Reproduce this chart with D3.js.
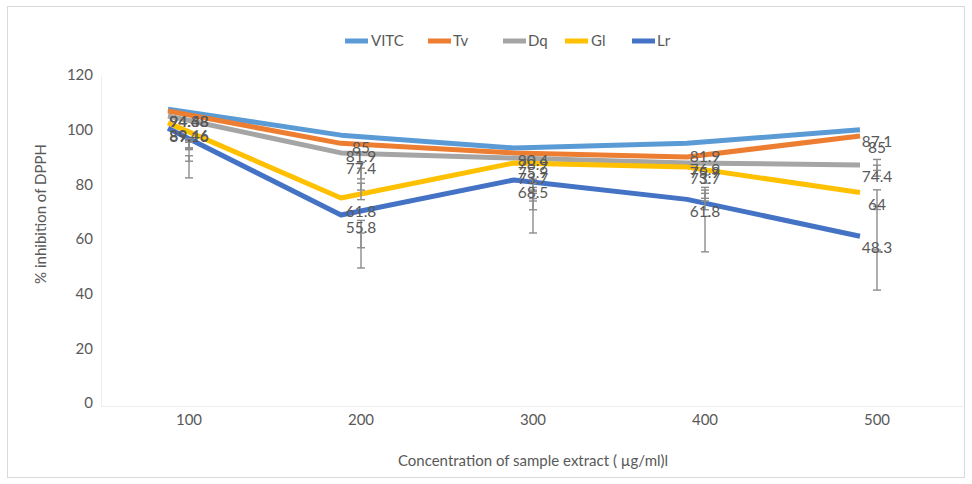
<!DOCTYPE html>
<html>
<head>
<meta charset="utf-8">
<script src="https://cdn.jsdelivr.net/npm/d3@7/dist/d3.min.js"></script>
<style>
  html, body { margin: 0; padding: 0; background: #fff; }
  svg { display: block; font-family: Lato, "Open Sans", sans-serif; }
</style>
</head>
<body>
<svg id="chart" width="972" height="484"></svg>
<script>
// ---- data ----
const categories = [100, 200, 300, 400, 500];
const seriesNames = ["VITC", "Tv", "Dq", "Gl", "Lr"];
const seriesColors = ["#5B9BD5", "#ED7D31", "#A5A5A5", "#FFC000", "#4472C4"];

const vitc = [107.5, 98.0, 93.3, 95.0, 100.0];
const tv   = [106.8, 95.0, 91.5, 90.0, 97.7];
const dq   = [105.0, 91.5, 89.6, 87.8, 87.1];
const gl   = [102.5, 75.0, 87.8, 86.3, 77.0];
const lr   = [100.5, 68.8, 81.6, 74.5, 61.0];

// labelled values (shown as data labels with error bars)
const labelA = [94.68, 85.0, 80.4, 81.9, 87.1];
const labelB = [94.48, 81.9, 78.9, 76.9, 85.0];
const labelC = [94.38, 77.4, 75.9, 75.9, 74.4];
const labelD = [89.46, 61.8, 73.7, 73.7, 64.0];
const labelE = [89.16, 55.8, 68.5, 61.8, 48.3];

const errA = [2.0, 3.0, 1.5, 1.5, 2.0];
const errB = [1.5, 4.0, 1.5, 2.0, 2.0];
const errC = [1.0, 3.0, 2.0, 2.0, 3.6];
const errD = [1.0, 5.0, 3.0, 3.0, 8.0];
const errE = [6.8, 6.4, 6.3, 6.5, 7.0];

const yTicks = [0, 20, 40, 60, 80, 100, 120];
const xTitle = "Concentration of sample extract ( µg/ml)l";
const yTitle = "% inhibition of DPPH";

// ---- drawing ----
const lineData = [vitc, tv, dq, gl, lr];
const labelData = [labelA, labelB, labelC, labelD, labelE];
const errData = [errA, errB, errC, errD, errE];

const svg = d3.select("#chart");
const textColor = "#595959";

// chart border
svg.append("rect").attr("x", 7.5).attr("y", 6.5).attr("width", 957).attr("height", 471)
  .attr("fill", "#fff").attr("stroke", "#d9d9d9").attr("stroke-width", 1);

const plot = { left: 103, right: 963, top: 75, bottom: 403 };

const x = d3.scaleBand().domain(categories).range([plot.left, plot.right]).padding(0);
const xLine = d3.scalePoint().domain(categories).range([168, 860]);
const y = d3.scaleLinear().domain([0, 120]).range([plot.bottom, plot.top]);
const cx = c => x(c) + x.bandwidth() / 2;

// faint plot-area edges
svg.append("line").attr("x1", 101.5).attr("x2", 101.5).attr("y1", plot.top).attr("y2", 406)
  .attr("stroke", "#eeeeee").attr("stroke-width", 1);
svg.append("line").attr("x1", 101).attr("x2", plot.right).attr("y1", 406.5).attr("y2", 406.5)
  .attr("stroke", "#eeeeee").attr("stroke-width", 1);

// y axis
const yAxis = d3.axisLeft(y).tickValues(yTicks).tickSize(0).tickPadding(0);
const gy = svg.append("g").attr("transform", `translate(93,0)`).call(yAxis);
gy.select(".domain").remove();
gy.selectAll("text").attr("fill", textColor).style("font-size", "15px")
  .style("font-family", "Lato, 'Open Sans', sans-serif");

// x axis
const xAxis = d3.axisBottom(x).tickSize(0).tickPadding(0);
const gx = svg.append("g").attr("transform", `translate(0,414)`).call(xAxis);
gx.select(".domain").remove();
gx.selectAll("text").attr("fill", textColor).style("font-size", "15px")
  .style("font-family", "Lato, 'Open Sans', sans-serif");

// axis titles
svg.append("text").attr("x", 533).attr("y", 466).attr("text-anchor", "middle")
  .attr("fill", textColor).style("font-size", "15px").text(xTitle);
svg.append("text").attr("transform", "translate(46,214) rotate(-90)")
  .attr("text-anchor", "middle").attr("fill", textColor).style("font-size", "15px").text(yTitle);

// lines
const line = d3.line().x((d, i) => xLine(categories[i])).y(d => y(d));
lineData.forEach((vals, s) => {
  svg.append("path").datum(vals).attr("d", line)
    .attr("fill", "none").attr("stroke", seriesColors[s]).attr("stroke-width", 5)
    .attr("stroke-linejoin", "round").attr("stroke-linecap", "butt");
});

// error bars
const errG = svg.append("g").attr("stroke", "#8c8c8c").attr("stroke-width", 1.4);
labelData.forEach((vals, s) => {
  vals.forEach((v, i) => {
    const e = errData[s][i];
    const px = cx(categories[i]);
    errG.append("line").attr("x1", px).attr("x2", px).attr("y1", y(v + e)).attr("y2", y(v - e));
    [v + e, v - e].forEach(t => {
      errG.append("line").attr("x1", px - 4).attr("x2", px + 4).attr("y1", y(t)).attr("y2", y(t));
    });
  });
});

// data labels (above points)
labelData.forEach((vals, s) => {
  vals.forEach((v, i) => {
    svg.append("text").attr("x", cx(categories[i])).attr("y", y(v) - 23)
      .attr("dy", "0.35em").attr("text-anchor", "middle")
      .attr("fill", textColor).style("font-size", "15.5px").text(v);
  });
});

// legend
const legendItems = [
  { x: 345, tx: 371 }, { x: 428, tx: 453 }, { x: 503, tx: 528 }, { x: 565, tx: 591 }, { x: 632, tx: 657 }
];
const leg = svg.append("g");
seriesNames.forEach((name, s) => {
  const it = legendItems[s];
  leg.append("line").attr("x1", it.x).attr("x2", it.x + 23).attr("y1", 41).attr("y2", 41)
    .attr("stroke", seriesColors[s]).attr("stroke-width", 5);
  leg.append("text").attr("x", it.tx).attr("y", 41).attr("dy", "0.35em")
    .attr("fill", textColor).style("font-size", "15px").text(name);
});
</script>
</body>
</html>
